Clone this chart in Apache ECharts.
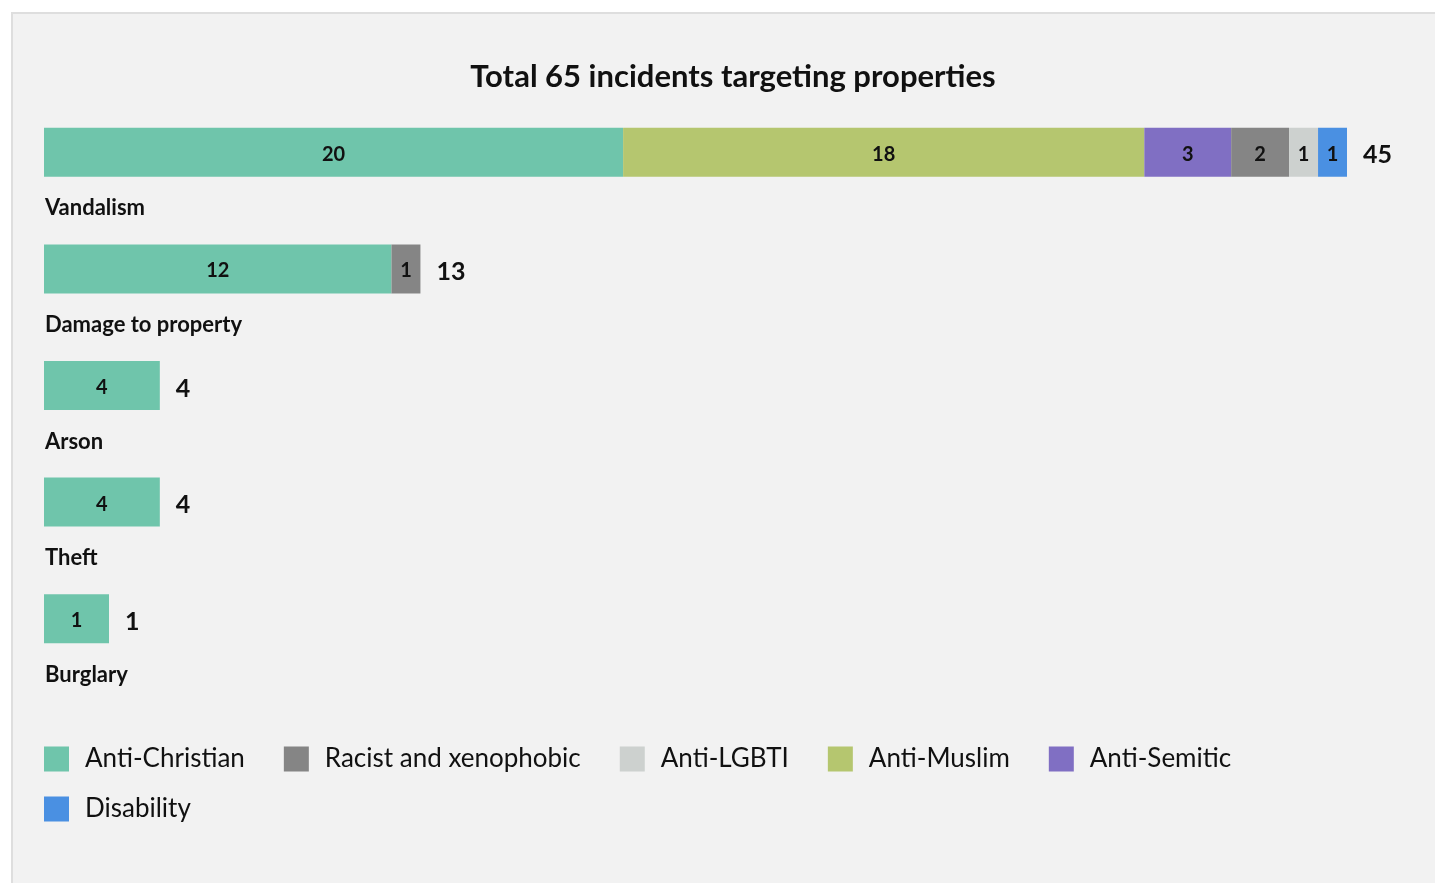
<!DOCTYPE html>
<html>
<head>
<meta charset="utf-8">
<script src="https://cdn.jsdelivr.net/npm/echarts@6/dist/echarts.min.js"></script>
<style>
  html, body { margin: 0; padding: 0; background: #ffffff; overflow: hidden; }
  #frame { position: absolute; left: 11px; top: 12px; width: 1440px; height: 900px;
           background: #f2f2f2; border: 2px solid #dedede; box-sizing: border-box; }
  #chart { position: absolute; left: 0; top: 0; width: 1435px; height: 883px; }
</style>
</head>
<body>
<div id="frame"></div>
<div id="chart"></div>
<script>
const categories = ['Vandalism', 'Damage to property', 'Arson', 'Theft', 'Burglary'];
const seriesNames = ['Anti-Christian', 'Racist and xenophobic', 'Anti-LGBTI', 'Anti-Muslim', 'Anti-Semitic', 'Disability'];
const antiChristian = [20, 12, 4, 4, 1];
const racist = [2, 1, null, null, null];
const antiLGBTI = [1, null, null, null, null];
const antiMuslim = [18, null, null, null, null];
const antiSemitic = [3, null, null, null, null];
const disability = [1, null, null, null, null];
const totals = [45, 13, 4, 4, 1];
const titleText = 'Total 65 incidents targeting properties';

const colors = ['#6fc5ab', '#858585', '#cdd1cf', '#b5c66f', '#806fc3', '#4a90e2'];
const FONT = 'Lato';

// stack order left-to-right in picture: Christian, Muslim, Semitic, Racist, LGBTI, Disability
const stackOrder = [
  { name: 'Anti-Christian', data: antiChristian, color: colors[0], minH: 65 },
  { name: 'Anti-Muslim', data: antiMuslim, color: colors[3] },
  { name: 'Anti-Semitic', data: antiSemitic, color: colors[4] },
  { name: 'Racist and xenophobic', data: racist, color: colors[1] },
  { name: 'Anti-LGBTI', data: antiLGBTI, color: colors[2] },
  { name: 'Disability', data: disability, color: colors[5] }
];

const series = stackOrder.map(s => ({
  name: s.name,
  type: 'bar',
  stack: 'total',
  barWidth: 49,
  barMinHeight: s.minH || 0,
  data: s.data,
  itemStyle: { color: s.color },
  label: {
    show: true, position: 'inside', offset: [0, 2], color: '#111', fontFamily: FONT,
    fontWeight: 'bold', fontSize: 20,
    formatter: p => (p.value == null ? '' : p.value)
  }
}));
series.push({
  name: 'Total',
  type: 'bar',
  barWidth: 49,
  barGap: '-100%',
  barMinHeight: 65,
  z: 1,
  data: totals,
  itemStyle: { color: 'rgba(0,0,0,0)' },
  label: {
    show: true, position: 'right', distance: 16, offset: [0, 3], color: '#111', fontFamily: FONT,
    fontWeight: 'bold', fontSize: 25
  },
  silent: true
});

const chart = echarts.init(document.getElementById('chart'));
chart.setOption({
  animation: false,
  backgroundColor: 'transparent',
  color: colors,
  title: {
    text: titleText, left: 728, top: 56, textAlign: 'center',
    textStyle: { fontFamily: FONT, fontWeight: 'bold', fontSize: 31, color: '#111' }
  },
  legend: {
    data: seriesNames,
    left: 44, top: 746, width: 1250, padding: 0,
    itemWidth: 25, itemHeight: 25, itemGap: 24,
    icon: 'rect',
    textStyle: { fontFamily: FONT, fontSize: 26, color: '#111', lineHeight: 26, padding: [0, 15, 0, 11] }
  },
  grid: { left: 44, right: 88, top: 94, height: 583, containLabel: false },
  xAxis: { type: 'value', min: 0, max: 45, show: false },
  yAxis: {
    type: 'category', data: categories, inverse: true,
    axisLine: { show: false }, axisTick: { show: false }, splitLine: { show: false },
    axisLabel: {
      inside: true, margin: 1, verticalAlign: 'top', padding: [45, 0, 0, 0],
      fontFamily: FONT, fontWeight: 'bold', fontSize: 22, color: '#111'
    },
    z: 5
  },
  series: series
});
</script>
</body>
</html>
